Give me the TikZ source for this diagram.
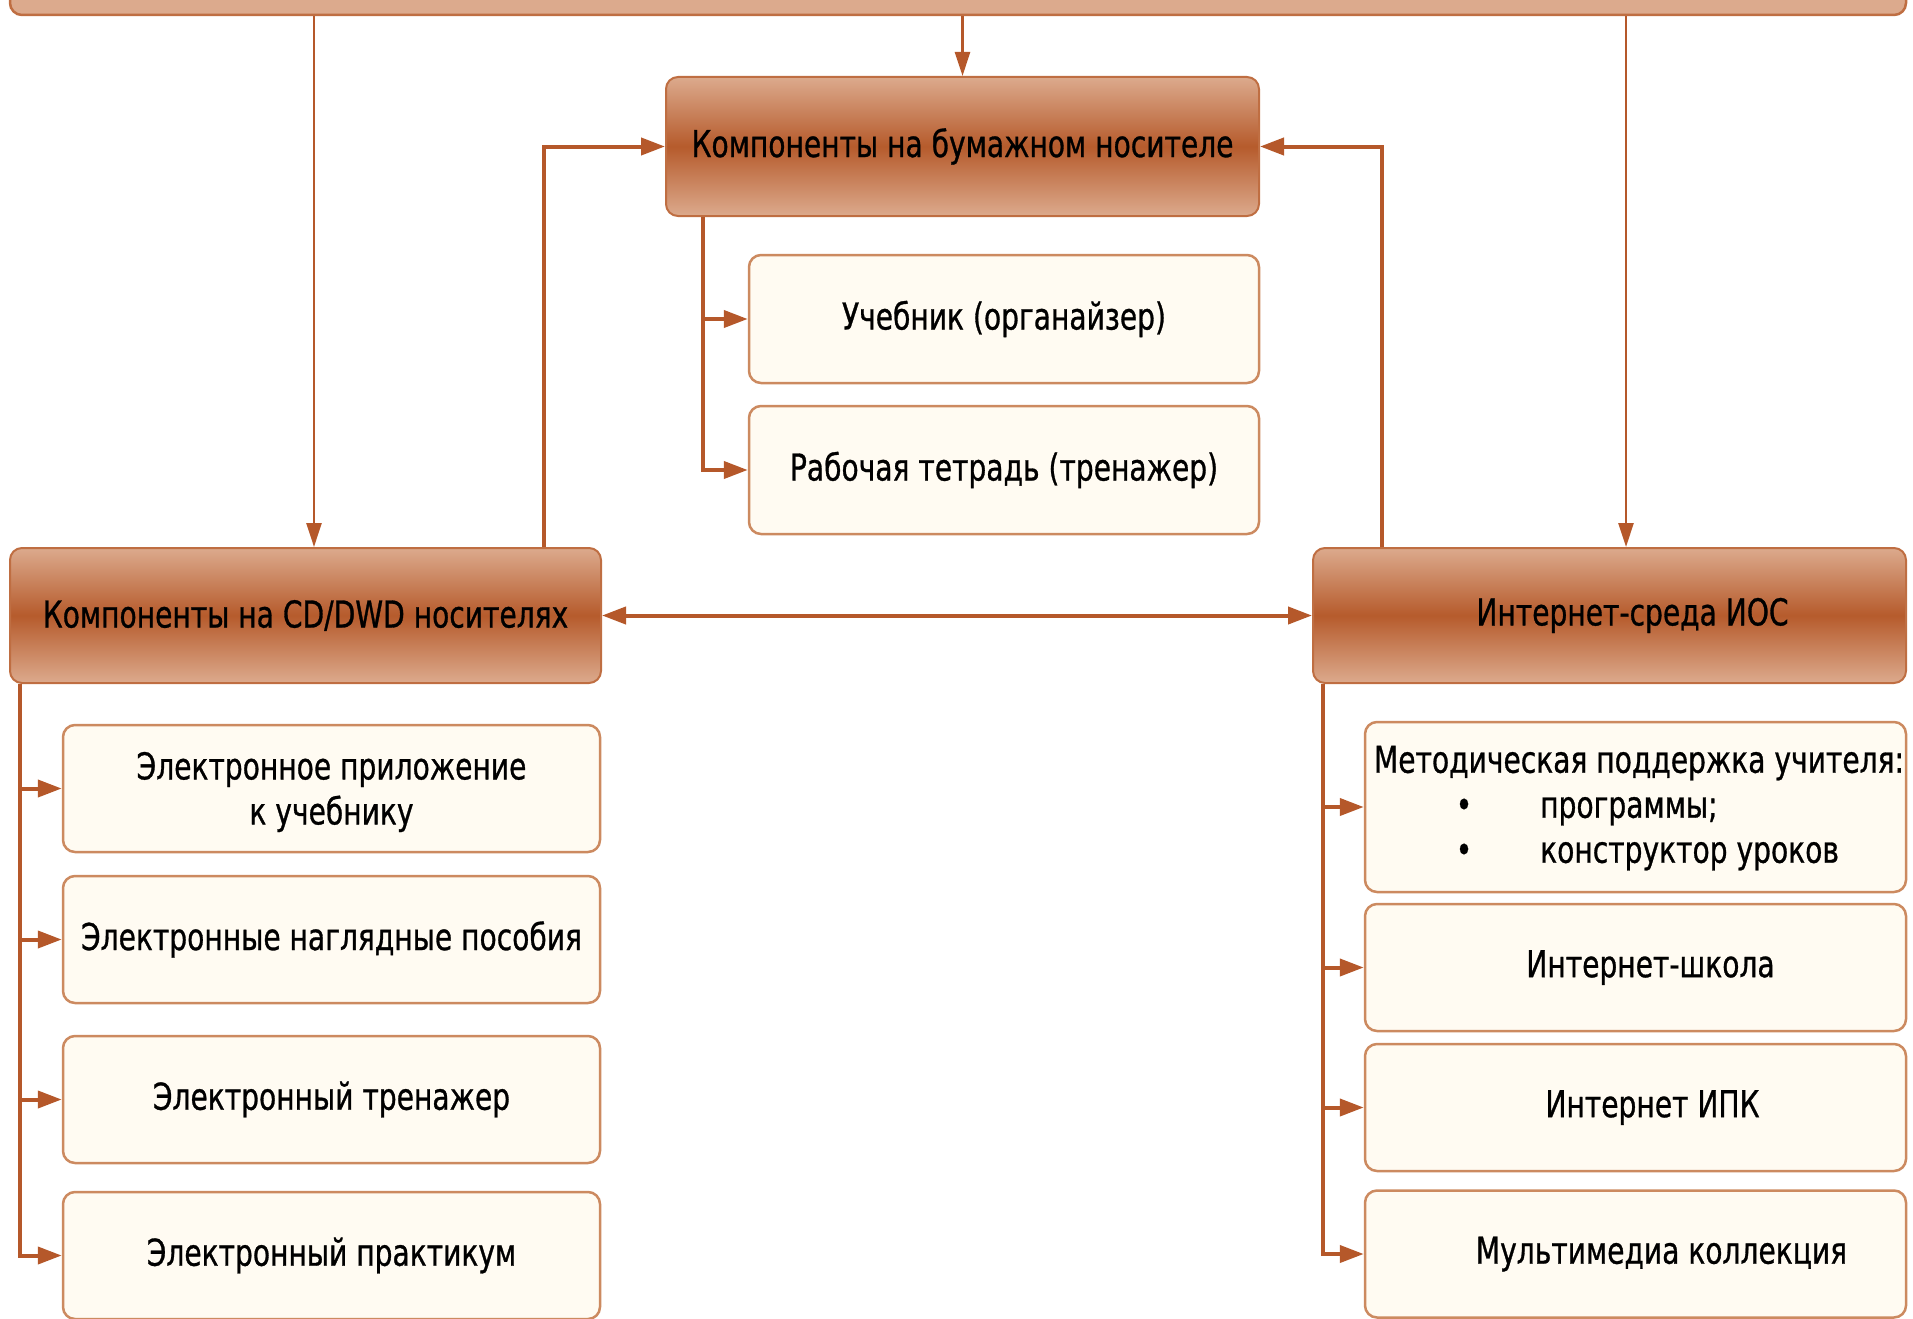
\documentclass[tikz,border=0pt]{standalone}
\usepackage{fontspec}
\setmainfont[FakeStretch=0.76,FakeBold=0.8]{DejaVu Sans}
\usetikzlibrary{arrows.meta}
\definecolor{hdrlight}{HTML}{DCAA8D}
\definecolor{hdrdark}{HTML}{B65B2C}
\definecolor{hdrline}{HTML}{BF6E42}
\definecolor{boxfill}{HTML}{FFFBF2}
\definecolor{boxline}{HTML}{CC8A60}
\definecolor{arr}{HTML}{B5582A}
\begin{document}
\begin{tikzpicture}[x=1pt,y=-1pt,
  txtfont/.style={font=\fontsize{37}{45}\selectfont},
  hdr/.style={draw=hdrline, line width=2pt, rounded corners=12pt,
    top color=hdrlight, bottom color=hdrlight, middle color=hdrdark,
    inner sep=0pt, txtfont, align=center},
  child/.style={draw=boxline, line width=2.5pt, rounded corners=12pt,
    fill=boxfill, inner sep=0pt, txtfont, align=center},
  conn/.style={draw=arr, line width=4pt, -{Triangle[length=24pt,width=17pt]}},
  thin/.style={draw=arr, line width=2.5pt, -{Triangle[length=24pt,width=15pt]}},
  txt/.style={inner sep=0pt, txtfont}
]
\useasboundingbox (0,0) rectangle (1913,1319);
\clip (0,0) rectangle (1913,1319);

% top bar
\node[draw=hdrline, line width=2.5pt, rounded corners=12pt, fill=hdrlight,
  minimum width=1896pt, minimum height=60pt, inner sep=0pt] (top) at (958,-15) {};

% headers
\node[hdr, minimum width=593pt, minimum height=139pt] (paper) at (962.5,146.5) {Компоненты на бумажном носителе};
\node[hdr, minimum width=591pt, minimum height=135pt] (cd) at (305.5,615.5) {Компоненты на CD/DWD носителях};
\node[hdr, minimum width=593pt, minimum height=135pt] (net) at (1609.5,615.5) {\hspace*{46pt}Интернет-среда ИОС};

% paper children
\node[child, minimum width=510pt, minimum height=128pt] (ucheb) at (1004,319) {Учебник (органайзер)};
\node[child, minimum width=510pt, minimum height=128pt] (rab) at (1004,470) {Рабочая тетрадь (тренажер)};

% cd children
\node[child, minimum width=537pt, minimum height=127pt] (eapp) at (331.5,788.5) {};
\node[txt, align=center] (eapptxt) at (331.5,792) {Электронное приложение\\к учебнику};
\node[child, minimum width=537pt, minimum height=127pt] (evis) at (331.5,939.5) {Электронные наглядные пособия};
\node[child, minimum width=537pt, minimum height=127pt] (etr) at (331.5,1099.5) {Электронный тренажер};
\node[child, minimum width=537pt, minimum height=127pt] (epr) at (331.5,1255.5) {Электронный практикум};

% net children
\node[child, minimum width=541pt, minimum height=170pt] (meth) at (1635.5,807) {};
\node[txt, anchor=mid] (meth1) at (1639,770) {Методическая поддержка учителя:};
\node[txt, anchor=mid] (b1) at (1464,815) {•};
\node[txt, anchor=mid west] (meth2) at (1540,815) {программы;};
\node[txt, anchor=mid] (b2) at (1464,860) {•};
\node[txt, anchor=mid west] (meth3) at (1540,860) {конструктор уроков};
\node[child, minimum width=541pt, minimum height=127pt] (school) at (1635.5,967.5) {\hspace*{30pt}Интернет-школа};
\node[child, minimum width=541pt, minimum height=127pt] (ipk) at (1635.5,1107.5) {\hspace*{34pt}Интернет ИПК};
\node[child, minimum width=541pt, minimum height=127pt] (mm) at (1635.5,1254) {\hspace*{52pt}Мультимедиа коллекция};

% named points
\coordinate (cdtop) at ([xshift=8.5pt]cd.north);
\coordinate (nettop) at ([xshift=16.5pt]net.north);
\coordinate (cdup) at ([xshift=238.5pt]cd.north);
\coordinate (netup) at ([xshift=-227.5pt]net.north);
\coordinate (ptrunk) at ([xshift=38pt]paper.south west);
\coordinate (cdtrunk) at ([xshift=11pt]cd.south west);
\coordinate (nettrunk) at ([xshift=11pt]net.south west);

% connectors from top bar
\draw[thin] (top.south -| paper.north) -- (paper.north);
\draw[thin] (top.south -| cdtop) -- (cdtop);
\draw[thin] (top.south -| nettop) -- (nettop);

% into paper header
\draw[conn] (cdup) |- (paper.west);
\draw[conn] (netup) |- (paper.east);

% double arrow
\draw[conn, {Triangle[length=24pt,width=17pt]}-{Triangle[length=24pt,width=17pt]}] (cd.east) -- (net.west);

% paper trunk
\draw[conn] (ptrunk) |- (ucheb.west);
\draw[conn] (ptrunk) |- (rab.west);

% cd trunk
\draw[conn] (cdtrunk) |- (eapp.west);
\draw[conn] (cdtrunk) |- (evis.west);
\draw[conn] (cdtrunk) |- (etr.west);
\draw[conn] (cdtrunk) |- (epr.west);

% net trunk
\draw[conn] (nettrunk) |- (meth.west);
\draw[conn] (nettrunk) |- (school.west);
\draw[conn] (nettrunk) |- (ipk.west);
\draw[conn] (nettrunk) |- (mm.west);
\end{tikzpicture}
\end{document}
